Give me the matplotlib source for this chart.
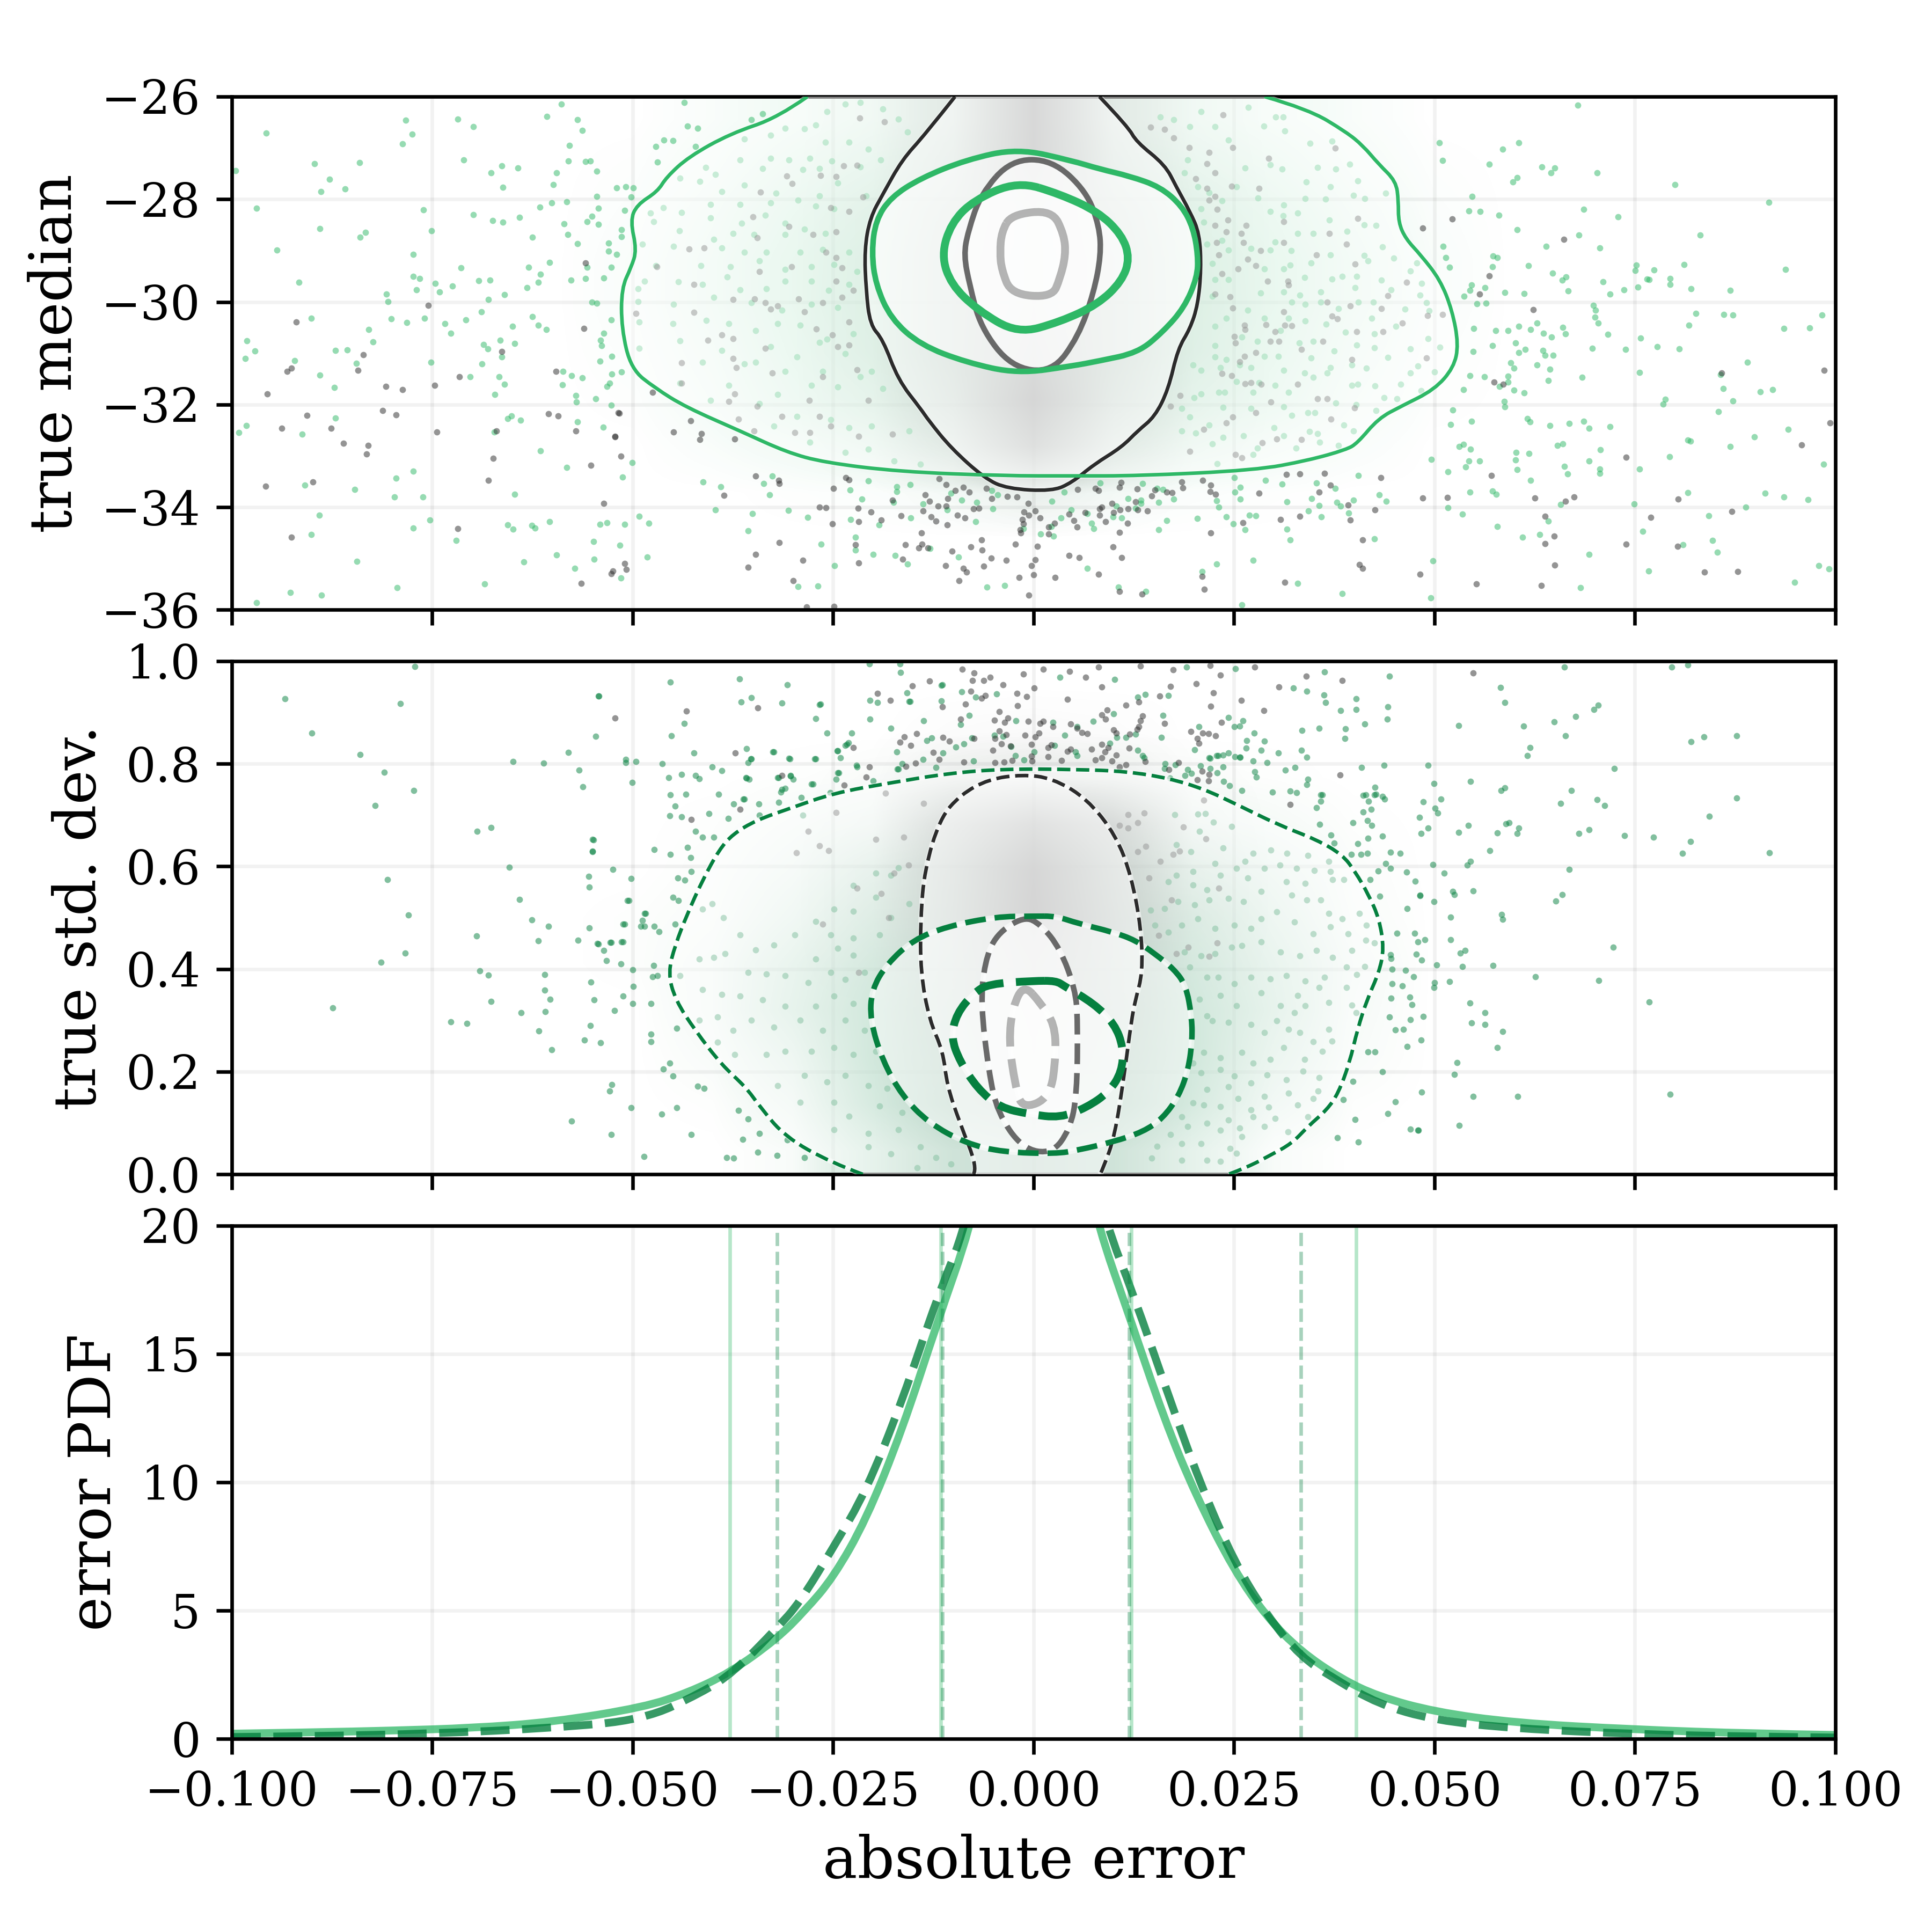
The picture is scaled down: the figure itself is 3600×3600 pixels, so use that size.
import matplotlib
matplotlib.use('Agg')
import matplotlib.pyplot as plt
from matplotlib.colors import LinearSegmentedColormap, to_rgba
from matplotlib.patches import PathPatch
from matplotlib.path import Path
import numpy as np

plt.rcParams['font.family'] = 'DejaVu Serif'

# --- top panel: scatter values (error, true median)
green_top = [
(-.0957,-26.71),(-.0995,-27.44),(-.0897,-27.31),(-.0878,-27.61),(-.0889,-27.85),(-.0859,-27.80),(-.0841,-27.29),(-.0783,-26.46),
(-.0775,-26.73),(-.0787,-26.92),(-.0718,-26.44),(-.0699,-26.59),(-.0711,-27.23),(-.0677,-27.49),(-.0663,-27.35),(-.0643,-27.39),
(-.0662,-27.77),(-.0969,-28.18),(-.0890,-28.57),(-.0840,-28.74),(-.0833,-28.65),(-.0944,-28.99),(-.0761,-28.21),(-.0751,-28.61),
(-.0699,-28.30),(-.0675,-28.42),(-.0662,-28.45),(-.0641,-28.35),(-.0774,-29.07),(-.0774,-29.50),(-.0766,-29.54),(-.0770,-29.76),
(-.0746,-29.64),(-.0741,-29.81),(-.0725,-29.69),(-.0714,-29.34),(-.0692,-29.59),(-.0678,-29.58),(-.0660,-29.86),(-.0680,-29.95),
(-.0916,-29.62),(-.0807,-29.85),(-.0805,-29.99),(-.0901,-30.32),(-.0801,-30.33),(-.0782,-30.40),(-.0760,-30.32),(-.0734,-30.42),
(-.0708,-30.35),(-.0689,-30.19),(-.0829,-30.54),(-.0824,-30.78),(-.0727,-30.61),(-.0981,-30.76),(-.0971,-30.96),(-.0983,-31.10),
(-.0871,-30.95),(-.0856,-30.94),(-.0922,-31.14),(-.0845,-31.20),(-.0752,-31.18),(-.0890,-31.43),(-.0872,-31.67),(-.0686,-30.83),
(-.0681,-30.92),(-.0665,-30.75),(-.0647,-30.81),(-.0663,-31.07),(-.0688,-31.21),(-.0703,-31.46),(-.0667,-31.46),(-.0660,-31.60),
(-.0672,-31.80),(-.0630,-29.33),(-.0615,-29.46),(-.0604,-29.23),(-.0632,-29.72),(-.0618,-29.62),(-.0625,-30.29),(-.0618,-30.46),
(-.0608,-30.54),(-.0650,-30.48),(-.0625,-28.74),(-.0616,-28.15),(-.0601,-28.07),(-.0582,-28.05),(-.0586,-28.48),(-.0581,-28.69),
(-.0569,-28.87),(-.0599,-27.72),(-.0595,-27.48),(-.0580,-27.26),(-.0559,-27.27),(-.0553,-27.25),(-.0545,-27.45),(-.0607,-26.39),
(-.0589,-26.15),(-.0569,-26.45),(-.0563,-26.66),(-.0579,-26.95),(-.0545,-27.95),(-.0543,-28.18),(-.0551,-28.33),(-.0557,-28.44),
(-.0543,-28.49),(-.0520,-27.78),(-.0509,-27.76),(-.0499,-27.78),(-.0502,-27.96),(-.0510,-28.22),(-.0514,-28.59),(-.0514,-28.73),
(-.0530,-28.85),(-.0530,-29.01),(-.0520,-29.07),(-.0557,-29.33),(-.0577,-29.58),(-.0559,-29.55),(-.0536,-29.53),(-.0527,-29.33),
(-.0551,-30.01),(-.0545,-30.03),(-.0527,-30.35),(-.0536,-30.61),(-.0540,-30.75),(-.0539,-30.85),(-.0541,-31.16),(-.0526,-31.06),
(-.0526,-31.41),(-.0514,-31.36),(-.0529,-31.58),(-.0532,-31.65),(-.0587,-31.35),(-.0576,-31.44),(-.0563,-31.48),(-.0588,-31.62),
(-.0571,-31.83),(-.0570,-31.95),(-.0546,-31.89),(-.0527,-32.01),(-.0982,-32.41),(-.0991,-32.55),(-.0871,-32.26),(-.0912,-32.58),
(-.0656,-32.27),(-.0651,-32.22),(-.0640,-32.31),(-.0673,-32.54),(-.0569,-32.34),(-.0537,-32.44),(-.0615,-32.90),(-.0582,-33.23),
(-.0513,-33.41),(-.0501,-33.13),(-.0774,-33.30),(-.0795,-33.44),(-.0847,-33.66),(-.0909,-33.57),(-.0797,-33.80),(-.0762,-33.80),
(-.0647,-33.75),(-.0891,-34.16),(-.0753,-34.25),(-.0774,-34.41),(-.0901,-34.53),(-.0720,-34.65),(-.0656,-34.35),(-.0649,-34.43),
(-.0626,-34.36),(-.0622,-34.41),(-.0604,-34.28),(-.0541,-34.33),(-.0532,-34.30),(-.0510,-34.33),(-.0492,-34.18),(-.0480,-34.31),
(-.0549,-34.67),(-.0516,-34.74),(-.0482,-34.97),(-.0548,-35.01),(-.0595,-34.93),(-.0636,-35.07),(-.0844,-35.06),(-.0572,-35.19),
(-.0515,-35.38),(-.0685,-35.50),(-.0794,-35.57),(-.0888,-35.71),(-.0927,-35.66),(-.0969,-35.86),
(.0679,-26.17),(.0506,-26.90),(.0585,-27.02),(.0605,-26.90),(.0510,-27.24),(.0568,-27.32),(.0634,-27.37),(.0645,-27.48),
(.0650,-27.39),(.0703,-27.49),(.0800,-27.72),(.0598,-27.66),(.0603,-27.58),(.0547,-27.94),(.0543,-28.23),(.0557,-28.24),
(.0580,-28.31),(.0686,-28.20),(.0729,-28.34),(.0603,-28.59),(.0917,-28.06),(.0680,-28.70),(.0831,-28.70),(.0639,-28.92),
(.0706,-28.95),(.0511,-28.92),(.0514,-29.14),(.0573,-29.11),(.0578,-29.14),(.0572,-29.31),(.0519,-29.33),(.0617,-29.29),
(.0647,-29.44),(.0664,-29.51),(.0659,-29.58),(.0710,-29.61),(.0667,-29.79),(.0612,-29.84),(.0588,-29.82),(.0546,-29.67),
(.0544,-29.78),(.0563,-29.72),(.0537,-29.89),(.0719,-29.85),(.0736,-29.76),(.0754,-29.71),(.0752,-29.28),(.0750,-29.39),
(.0774,-29.38),(.0765,-29.56),(.0768,-29.57),(.0794,-29.54),(.0794,-29.66),(.0811,-29.27),(.0820,-29.74),(.0869,-29.77),
(.0938,-29.37),(.0553,-30.04),(.0564,-30.03),(.0698,-30.07),(.0701,-30.16),(.0700,-30.30),(.0704,-30.41),(.0826,-30.23),
(.0861,-30.25),(.0872,-30.26),(.0983,-30.26),(.0817,-30.46),(.0936,-30.52),(.0968,-30.51),(.0549,-30.52),(.0576,-30.56),
(.0592,-30.56),(.0605,-30.48),(.0620,-30.54),(.0628,-30.41),(.0636,-30.61),(.0646,-30.69),(.0660,-30.50),(.0663,-30.62),
(.0716,-30.63),(.0757,-30.71),(.0601,-30.80),(.0572,-30.85),(.0613,-30.93),(.0605,-30.99),(.0635,-30.95),(.0638,-31.04),
(.0648,-31.04),(.0697,-30.90),(.0738,-30.93),(.0778,-30.87),(.0805,-30.92),(.0548,-30.97),(.0595,-31.19),(.0628,-31.23),
(.0599,-31.29),(.0644,-31.31),(.0890,-31.18),(.0756,-31.37),(.0684,-31.47),(.0544,-31.44),(.0562,-31.46),(.0592,-31.45),
(.0642,-31.53),(.0592,-31.56),(.0581,-31.65),(.0536,-31.71),(.0599,-31.72),(.0612,-31.77),(.0857,-31.42),(.0860,-31.69),
(.0906,-31.75),(.0922,-31.71),(.0872,-31.93),(.0788,-31.90),(.0785,-31.99),(.0587,-31.94),(.0588,-32.04),(.0523,-32.11),
(.0854,-32.14),(.0520,-32.39),(.0546,-32.33),(.0616,-32.27),(.0619,-32.34),(.0644,-32.41),(.0668,-32.37),(.0686,-32.33),
(.0693,-32.46),(.0719,-32.43),(.0899,-32.63),(.0941,-32.48),(.0816,-32.69),(.0819,-32.71),(.0869,-32.82),(.0536,-32.78),
(.0531,-32.82),(.0545,-32.87),(.0660,-32.77),(.0653,-32.80),(.0707,-32.88),(.0602,-32.93),(.0618,-32.95),(.0496,-33.07),
(.0543,-33.10),(.0539,-33.22),(.0556,-33.10),(.0601,-33.08),(.0603,-33.27),(.0517,-33.31),(.0620,-33.48),(.0662,-33.20),
(.0666,-33.35),(.0693,-33.10),(.0706,-33.26),(.0706,-33.34),(.0756,-33.26),(.0793,-33.02),(.0985,-33.16),(.0544,-33.71),
(.0572,-33.69),(.0577,-33.75),(.0816,-33.72),(.0912,-33.73),(.0936,-33.80),(.0966,-33.85),(.0517,-34.01),(.0535,-34.14),
(.0657,-33.95),(.0749,-33.94),(.0888,-34.00),(.0842,-34.17),(.0578,-34.38),(.0642,-34.27),(.0631,-34.53),(.0610,-34.59),
(.0760,-34.47),(.0810,-34.73),(.0847,-34.65),(.0853,-34.88),(.0693,-34.92),(.0498,-35.05),(.0767,-35.24),(.0682,-35.57),
(.0949,-35.46),(.0979,-35.14),(.0992,-35.20),(.0495,-35.77),
(-.0412,-33.51),(-.0390,-33.60),(-.0337,-33.54),(-.0326,-33.39),(-.0329,-33.76),(-.0397,-34.05),(-.0351,-34.13),(-.0306,-34.06),
(-.0282,-34.20),(-.0228,-34.24),(-.0193,-34.34),(-.0356,-34.46),(-.0206,-33.49),(-.0229,-33.67),(-.0214,-33.84),(-.0171,-33.60),
(-.0171,-33.70),(-.0154,-33.56),(-.0175,-33.91),(-.0138,-33.94),(-.0108,-34.05),(-.0153,-34.21),(-.0090,-33.86),(-.0071,-33.91),
(-.0051,-34.03),(-.0072,-34.28),(-.0103,-33.73),(-.0052,-33.68),(-.0045,-33.76),(.0023,-33.89),(.0038,-33.71),(.0047,-34.05),
(.0067,-34.13),(.0034,-34.21),(.0072,-34.31),(.0075,-34.42),(.0022,-34.38),(-.0013,-34.42),(.0009,-34.52),(.0025,-34.56),
(.0099,-34.19),(.0110,-34.21),(.0103,-33.98),(.0118,-33.83),(.0134,-33.86),(.0134,-33.93),(.0156,-33.91),(.0175,-33.84),
(.0161,-33.65),(.0154,-33.63),(.0083,-33.53),(.0136,-33.54),(.0127,-34.02),(.0166,-34.26),(.0204,-34.22),(.0156,-34.44),
(.0231,-34.00),(.0228,-33.87),(.0258,-33.84),(.0258,-33.61),(.0251,-33.71),(.0250,-33.43),(.0289,-33.48),(.0310,-33.55),
(.0353,-33.53),(.0376,-33.63),(.0405,-33.38),(.0431,-33.76),(.0347,-33.83),(.0316,-33.90),(.0356,-33.97),(.0378,-33.91),
(.0383,-33.98),(.0399,-33.86),(.0440,-33.89),(.0343,-34.07),(.0393,-34.11),(.0359,-34.19),(.0240,-34.19),(.0269,-34.16),
(.0277,-34.17),(.0249,-34.32),(.0264,-34.44),(.0316,-34.43),(.0320,-34.64),(.0425,-34.62),(-.0222,-34.59),(-.0265,-34.72),
(-.0222,-34.84),(-.0200,-34.92),(-.0173,-34.94),(-.0157,-35.11),(-.0129,-34.81),(-.0094,-34.97),(-.0248,-35.14),(-.0294,-35.55),
(-.0269,-35.54),(-.0058,-35.56),(-.0036,-35.53),(.0067,-35.19),(.0210,-35.25),(.0228,-35.11),(.0274,-35.04),(.0329,-35.49),
(.0106,-35.56),(.0140,-35.64),(.0385,-35.68),(.0260,-35.90),
(.0268,-26.21),(.0302,-26.40),(.0311,-26.40),(.0287,-26.57),(.0313,-26.67),(.0345,-26.91),(.0372,-26.87),(.0394,-27.32),
(.0354,-27.38),(.0377,-27.41),(.0404,-27.64),(.0340,-27.66),(.0370,-27.76),(.0399,-27.92),(.0413,-27.99),(.0439,-27.88),
(.0364,-28.00),(.0339,-27.99),(.0310,-27.41),(.0295,-27.33),(.0264,-27.39),(.0253,-27.76),(.0280,-27.98),(.0295,-28.24),
(.0312,-28.11),(.0329,-28.27),(.0311,-28.32),(.0369,-28.40),(.0412,-28.50),(.0427,-28.51),(.0391,-28.62),(.0349,-28.67),
(.0329,-28.67),(.0301,-28.83),(.0271,-28.96),(.0295,-28.99),(.0321,-29.00),(.0346,-29.24),(.0370,-29.08),(.0412,-29.10),
(.0435,-28.93),(.0449,-29.15),(.0417,-29.20),(.0478,-29.24),(.0470,-29.40),(.0288,-29.36),(.0312,-29.36),(.0320,-29.28),
(.0338,-29.52),(.0372,-29.56),(.0385,-29.50),(.0403,-29.50),(.0434,-29.58),(.0484,-29.64),(.0482,-29.87),(.0490,-30.02),
(.0446,-29.76),(.0401,-29.72),(.0358,-29.81),(.0332,-29.87),(.0312,-29.81),(.0283,-29.83),(.0322,-30.01),(.0339,-30.05),
(.0358,-30.00),(.0380,-30.13),(.0405,-30.00),(.0424,-30.00),(.0463,-30.14),(.0493,-30.17),(.0422,-30.32),(.0452,-30.48),
(.0425,-30.62),(.0389,-30.59),(.0365,-30.43),(.0339,-30.37),(.0318,-30.32),(.0288,-30.32),(.0267,-30.16),(.0260,-30.69),
(.0279,-30.77),(.0308,-30.56),(.0331,-30.80),(.0349,-30.77),(.0375,-30.96),(.0403,-30.84),(.0425,-30.89),(.0470,-30.92),
(.0492,-30.72),(.0507,-30.88),(.0442,-31.08),(.0397,-31.23),(.0370,-31.28),(.0346,-31.09),(.0305,-31.06),(.0288,-31.06),
(.0257,-31.23),(.0271,-31.28),(.0312,-31.33),(.0338,-31.39),(.0366,-31.39),(.0415,-31.29),(.0479,-31.25),(.0470,-31.39),
(.0500,-31.36),(.0404,-31.60),(.0397,-31.63),(.0426,-31.64),(.0458,-31.61),(.0483,-31.73),(.0349,-31.47),(.0301,-31.63),
(.0281,-31.57),(.0318,-31.76),(.0274,-31.76),(.0437,-31.87),(.0453,-31.89),(.0377,-31.97),(.0402,-32.00),(.0427,-32.12),
(.0312,-32.04),(.0342,-32.16),(.0351,-32.16),(.0271,-32.08),(.0236,-32.05),(.0322,-32.21),(.0387,-32.40),(.0399,-32.51),
(.0300,-32.45),(.0344,-32.53),(.0354,-32.57),(.0312,-32.61),(.0262,-32.61),(.0279,-32.85),(.0327,-32.85),(.0357,-32.73),
(.0380,-32.80),(.0274,-32.97),(.0229,-33.15),(.0223,-32.77),(.0236,-32.64),(.0202,-32.56),(.0185,-32.51),(.0219,-32.40),
(.0195,-32.24),(.0185,-32.08),(.0200,-31.87),(.0209,-31.79),(.0231,-31.76),(.0238,-31.76),(.0253,-31.55),(.0233,-31.28),
(.0209,-31.33),(.0199,-31.23),(.0226,-31.07),(.0226,-30.85),(.0240,-31.12),(.0226,-30.48),(.0240,-30.32),(.0223,-29.89),
(.0226,-29.57),(.0243,-29.57),(.0223,-29.25),(.0216,-28.88),(.0235,-28.80),(.0243,-28.99),(.0212,-28.45),(.0235,-28.03),
(.0209,-28.19),(.0219,-27.87),(.0188,-27.49),(.0205,-27.76),(.0192,-27.23),(.0195,-26.59),(.0209,-26.29),(.0226,-26.59),
(.0243,-26.85),(.0158,-26.40),(.0175,-26.45),
(-.0436,-26.11),(-.0338,-26.33),(-.0352,-26.45),(-.0432,-26.58),(-.0419,-26.62),(-.0461,-26.85),(-.0450,-26.86),(-.0471,-26.97),
(-.0469,-27.28),(-.0310,-26.62),(-.0286,-26.63),(-.0272,-26.55),(-.0258,-26.29),(-.0235,-26.15),(-.0216,-26.12),(-.0188,-26.24),
(-.0169,-26.44),(-.0157,-26.69),(-.0328,-26.75),(-.0361,-26.83),(-.0260,-26.89),(-.0230,-26.89),(-.0206,-27.03),(-.0191,-27.23),
(-.0328,-27.20),(-.0305,-27.23),(-.0279,-27.20),(-.0252,-27.25),(-.0366,-27.23),(-.0422,-26.97),(-.0409,-27.38),(-.0441,-27.59),
(-.0416,-27.65),(-.0397,-27.52),(-.0338,-27.40),(-.0288,-27.42),(-.0267,-27.40),(-.0216,-27.37),(-.0389,-27.85),(-.0361,-27.73),
(-.0321,-27.88),(-.0294,-28.02),(-.0267,-27.93),(-.0244,-27.68),(-.0209,-27.93),(-.0403,-28.10),(-.0366,-28.10),(-.0328,-28.07),
(-.0478,-28.27),(-.0462,-28.16),(-.0439,-28.26),(-.0403,-28.36),(-.0364,-28.47),(-.0335,-28.31),(-.0310,-28.47),(-.0272,-28.13),
(-.0249,-28.19),(-.0474,-28.44),(-.0375,-28.67),(-.0349,-28.69),(-.0310,-28.69),(-.0286,-28.58),(-.0260,-28.67),(-.0442,-28.61),
(-.0399,-28.78),(-.0361,-29.03),(-.0333,-29.03),(-.0291,-29.03),(-.0263,-28.98),(-.0230,-29.03),(-.0449,-28.92),(-.0488,-28.88),
(-.0389,-28.95),(-.0415,-29.29),(-.0471,-29.29),(-.0378,-29.32),(-.0342,-29.20),(-.0310,-29.37),(-.0277,-29.32),(-.0249,-29.27),
(-.0220,-29.41),(-.0485,-29.60),(-.0443,-29.61),(-.0413,-29.66),(-.0382,-29.51),(-.0366,-29.76),(-.0333,-29.74),(-.0310,-29.60),
(-.0277,-29.60),(-.0256,-29.77),(-.0230,-29.66),(-.0493,-29.74),(-.0493,-29.99),(-.0449,-30.05),(-.0399,-29.91),(-.0352,-30.02),
(-.0314,-30.16),(-.0277,-30.05),(-.0244,-30.11),(-.0492,-30.39),(-.0450,-30.42),(-.0408,-30.36),(-.0380,-30.42),(-.0347,-30.56),
(-.0319,-30.42),(-.0291,-30.45),(-.0258,-30.73),(-.0225,-30.62),(-.0492,-30.90),(-.0441,-30.76),(-.0389,-30.95),(-.0347,-31.18),
(-.0328,-30.87),(-.0295,-31.07),(-.0267,-30.79),(-.0235,-31.01),(-.0202,-31.35),(-.0413,-31.18),(-.0361,-31.21),(-.0310,-31.35),
(-.0263,-31.35),(-.0169,-31.46),(-.0441,-31.58),(-.0380,-31.63),(-.0319,-31.80),(-.0277,-31.63),(-.0244,-31.66),(-.0216,-31.46),
(-.0188,-31.69),(-.0403,-31.92),(-.0342,-31.98),(-.0295,-32.23),(-.0253,-32.30),(-.0230,-32.45),(-.0202,-32.42),(-.0155,-32.51),
(-.0324,-32.42),(-.0279,-32.73),(-.0235,-32.93),(-.0206,-32.87),(-.0174,-33.10),(-.0141,-33.16),
]
grey_top = [
(-.0920,-30.39),(-.0755,-30.07),(-.0836,-31.03),(-.0843,-31.33),(-.0926,-31.29),(-.0931,-31.35),(-.0956,-31.79),(-.0808,-31.65),
(-.0787,-31.71),(-.0747,-31.63),(-.0716,-31.46),(-.0663,-30.97),(-.0559,-29.24),(-.0561,-30.52),(-.0596,-31.35),(-.0906,-32.21),
(-.0938,-32.46),(-.0876,-32.46),(-.0812,-32.12),(-.0795,-32.20),(-.0861,-32.76),(-.0830,-32.80),(-.0832,-32.96),(-.0744,-32.54),
(-.0670,-32.52),(-.0674,-33.05),(-.0605,-32.18),(-.0593,-32.22),(-.0571,-32.52),(-.0517,-32.17),(-.0522,-32.63),(-.0515,-33.01),
(-.0552,-33.18),(-.0680,-33.48),(-.0958,-33.59),(-.0899,-33.51),(-.0536,-33.93),(-.0718,-34.42),(-.0926,-34.59),(-.0564,-35.48),
(-.0527,-35.30),(-.0525,-35.24),(-.0510,-35.10),(-.0508,-35.21),
(.0522,-28.38),(.0485,-28.56),(.0661,-28.78),(.0568,-29.49),(.0556,-29.85),(.0623,-30.15),(.0858,-31.39),(.0986,-31.33),
(.0574,-31.56),(.0586,-31.61),(.0993,-32.36),(.0958,-32.79),(.0739,-33.03),(.0571,-33.38),(.0485,-33.82),(.0516,-33.81),
(.0625,-33.82),(.0674,-33.80),(.0663,-33.88),(.0804,-33.84),(.0871,-34.08),(.0770,-34.20),(.0638,-34.18),(.0649,-34.56),
(.0638,-34.71),(.0739,-34.72),(.0803,-34.76),(.0650,-35.13),(.0837,-35.27),(.0878,-35.25),(.0552,-35.50),(.0633,-35.53),(.0482,-35.31),
(-.0386,-33.77),(-.0347,-33.39),(-.0318,-33.48),(-.0317,-33.54),(-.0250,-33.63),(-.0234,-33.42),(-.0230,-33.47),(-.0267,-34.00),
(-.0259,-34.01),(-.0219,-34.02),(-.0203,-34.09),(-.0251,-34.32),(-.0218,-34.28),(-.0190,-34.25),(-.0176,-33.86),(-.0135,-33.76),
(-.0130,-33.88),(-.0138,-34.07),(-.0119,-33.98),(-.0109,-33.98),(-.0165,-34.17),(-.0128,-34.19),(-.0122,-34.27),(-.0108,-34.35),
(-.0095,-34.16),(-.0086,-34.21),(-.0075,-34.03),(-.0068,-34.02),(-.0107,-33.83),(-.0080,-33.71),(-.0088,-33.61),(-.0098,-33.68),
(-.0109,-33.56),(-.0118,-33.45),(-.0059,-33.63),(-.0052,-33.83),(-.0033,-33.79),(-.0021,-33.80),(-.0007,-33.93),(-.0012,-34.09),
(.0002,-34.07),(-.0006,-34.16),(-.0014,-34.24),(.0008,-34.21),(-.0013,-34.32),(-.0017,-34.44),(-.0016,-34.50),(.0019,-34.39),
(.0026,-34.31),(.0019,-34.52),(.0050,-34.26),(.0054,-34.39),(.0044,-34.14),(.0064,-34.10),(.0082,-34.16),(.0090,-34.28),
(.0117,-34.31),(.0107,-34.49),(.0100,-34.10),(.0082,-34.03),(.0085,-34.00),(.0098,-33.93),(.0108,-34.05),(.0118,-34.03),
(.0130,-34.05),(.0142,-34.07),(.0127,-33.90),(.0147,-33.78),(.0151,-33.67),(.0166,-33.71),(.0173,-33.72),(.0129,-33.64),
(.0107,-33.61),(.0077,-33.63),(.0081,-33.68),(.0055,-33.65),(.0109,-33.52),(.0185,-33.51),(.0186,-33.62),(.0211,-33.48),
(.0221,-33.57),(.0220,-33.70),(.0227,-33.75),(.0281,-33.73),(.0315,-33.36),(.0332,-33.35),(.0363,-33.34),(.0370,-33.57),
(.0356,-33.71),(.0433,-33.42),(.0392,-33.96),(.0426,-34.05),(.0308,-34.24),(.0332,-34.18),(.0395,-34.25),(.0261,-34.30),
(.0221,-34.50),(.0410,-34.64),(-.0317,-34.69),(-.0347,-34.92),(-.0288,-35.04),(-.0356,-35.17),(-.0300,-35.43),(-.0222,-34.73),
(-.0218,-35.09),(-.0160,-34.73),(-.0139,-34.72),(-.0143,-34.79),(-.0132,-34.80),(-.0140,-34.50),(-.0163,-35.01),(-.0102,-34.86),
(-.0078,-34.77),(-.0065,-34.64),(-.0064,-34.84),(-.0053,-34.99),(-.0110,-35.14),(-.0088,-35.19),(-.0084,-35.27),(-.0062,-35.15),
(-.0034,-35.04),(-.0023,-34.72),(.0005,-34.76),(.0002,-35.03),(-.0003,-35.14),(.0000,-35.32),(-.0018,-35.37),(.0027,-35.37),
(-.0093,-35.43),(.0044,-34.94),(.0057,-34.98),(.0099,-34.77),(.0110,-34.98),(.0081,-35.31),(.0210,-35.35),(.0213,-35.60),
(.0107,-35.64),(.0135,-35.69),(-.0006,-35.71),(.0313,-35.46),(.0406,-35.12),(.0410,-35.19),(-.0283,-35.95),(-.0249,-35.93),
(.0236,-26.36),(.0163,-26.64),(.0146,-26.60),(.0175,-26.80),(.0194,-26.99),(.0219,-27.09),(.0248,-26.99),(.0293,-27.20),
(.0216,-27.31),(.0226,-27.48),(.0202,-27.60),(.0281,-27.79),(.0247,-27.75),(.0216,-27.79),(.0226,-27.95),(.0219,-28.02),
(.0229,-28.20),(.0312,-28.44),(.0242,-28.41),(.0226,-28.51),(.0265,-28.51),(.0259,-28.67),(.0240,-28.64),(.0262,-28.84),
(.0228,-28.84),(.0312,-28.84),(.0369,-28.67),(.0404,-28.37),(.0376,-27.00),(.0390,-28.88),(.0353,-29.09),(.0283,-29.00),
(.0231,-29.09),(.0267,-29.17),(.0277,-29.29),(.0255,-29.36),(.0235,-29.45),(.0292,-29.60),(.0317,-29.60),(.0318,-29.67),
(.0401,-29.26),(.0465,-29.62),(.0442,-29.88),(.0366,-30.00),(.0312,-30.19),(.0395,-30.08),(.0434,-30.13),(.0491,-30.27),
(.0510,-30.25),(.0460,-30.41),(.0372,-30.28),(.0379,-30.33),(.0313,-30.45),(.0322,-30.47),(.0290,-30.44),(.0263,-30.45),
(.0264,-30.54),(.0301,-30.58),(.0403,-30.58),(.0436,-30.58),(.0248,-30.12),(.0245,-29.90),(.0226,-29.85),(.0250,-30.67),
(.0252,-30.80),(.0295,-30.77),(.0306,-30.77),(.0361,-30.77),(.0334,-30.93),(.0397,-31.12),(.0490,-31.09),(.0257,-31.17),
(.0277,-30.99),(.0263,-31.06),(.0247,-31.44),(.0235,-31.40),(.0264,-31.59),(.0271,-31.57),(.0284,-31.61),(.0329,-31.61),
(.0354,-31.89),(.0366,-31.89),(.0296,-31.95),(.0277,-32.16),(.0400,-32.07),(.0371,-32.28),(.0248,-32.24),(.0240,-32.36),
(.0212,-32.48),(.0303,-32.67),(.0285,-32.75),(.0334,-32.68),(.0195,-32.91),(.0252,-32.98),(.0260,-33.04),(.0183,-31.83),(.0171,-32.03),
(-.0217,-26.42),(-.0186,-26.49),(-.0237,-27.35),(-.0220,-27.34),(-.0266,-27.54),(-.0246,-27.56),(-.0308,-27.55),(-.0301,-27.69),
(-.0341,-27.86),(-.0213,-27.96),(-.0253,-28.16),(-.0230,-28.24),(-.0350,-28.34),(-.0305,-28.53),(-.0275,-28.69),(-.0246,-28.64),
(-.0345,-28.75),(-.0411,-28.95),(-.0430,-28.97),(-.0259,-29.03),(-.0246,-29.14),(-.0302,-29.32),(-.0342,-29.41),(-.0239,-29.34),
(-.0470,-29.32),(-.0246,-29.60),(-.0424,-29.66),(-.0225,-29.77),(-.0348,-29.94),(-.0335,-30.02),(-.0293,-29.94),(-.0263,-30.02),
(-.0239,-29.91),(-.0375,-29.95),(-.0496,-30.22),(-.0319,-30.08),(-.0328,-30.14),(-.0286,-30.19),(-.0424,-30.20),(-.0271,-30.53),
(-.0251,-30.64),(-.0230,-30.39),(-.0389,-30.64),(-.0375,-30.72),(-.0406,-30.75),(-.0335,-30.90),(-.0244,-30.87),(-.0230,-30.84),
(-.0375,-31.10),(-.0439,-31.19),(-.0371,-31.28),(-.0326,-31.39),(-.0263,-31.46),(-.0220,-31.32),(-.0439,-31.58),(-.0373,-31.79),
(-.0380,-31.94),(-.0280,-31.92),(-.0206,-31.92),(-.0345,-32.03),(-.0368,-32.28),(-.0314,-32.23),(-.0267,-32.23),(-.0253,-32.42),
(-.0298,-32.55),(-.0349,-32.51),(-.0279,-32.55),(-.0176,-32.58),(-.0218,-32.62),(-.0518,-32.16),(-.0522,-32.62),(-.0475,-31.76),
(-.0428,-32.32),(-.0449,-32.54),(-.0414,-32.57),(-.0416,-32.68),(-.0373,-32.67),
]

# --- middle panel scatter values (error, true std. dev.)
green_mid = [
(-.0772,.989),(-.0934,.927),(-.0790,.917),(-.0900,.860),(-.0840,.818),(-.0810,.783),(-.0773,.748),(-.0821,.719),(-.0694,.668),
(-.0677,.676),(-.0649,.804),(-.0611,.801),(-.0580,.822),(-.0567,.788),(-.0562,.755),(-.0542,.932),(-.0546,.853),(-.0509,.808),
(-.0509,.802),(-.0496,.804),(-.0501,.764),(-.0549,.652),(-.0550,.629),(-.0654,.598),(-.0525,.594),(-.0555,.581),(-.0554,.560),
(-.0502,.576),(-.0806,.574),(-.0641,.536),(-.0507,.533),(-.0484,.508),(-.0488,.495),(-.0780,.505),(-.0626,.496),(-.0605,.483),
(-.0512,.487),(-.0490,.483),(-.0695,.464),(-.0554,.480),(-.0618,.455),(-.0568,.456),(-.0543,.449),(-.0527,.452),(-.0512,.453),
(-.0536,.436),(-.0784,.431),(-.0814,.413),(-.0533,.416),(-.0515,.410),(-.0500,.399),(-.0691,.396),(-.0680,.388),(-.0610,.389),
(-.0552,.375),(-.0610,.359),(-.0603,.341),(-.0677,.337),(-.0548,.340),(-.0499,.366),(-.0512,.347),(-.0500,.333),(-.0874,.324),
(-.0609,.317),(-.0639,.315),(-.0523,.319),(-.0727,.297),(-.0707,.294),(-.0553,.290),(-.0617,.279),(-.0560,.262),(-.0540,.256),
(-.0601,.243),(-.0526,.175),(-.0529,.162),(-.0502,.130),(-.0576,.104),(-.0527,.078),(-.0486,.035),
(.0662,.988),(.0796,.988),(.0816,.993),(.0582,.949),(.0588,.919),(.0704,.914),(.0699,.906),(.0676,.892),(.0649,.882),
(.0611,.873),(.0530,.874),(.0663,.855),(.0877,.854),(.0836,.852),(.0820,.843),(.0619,.832),(.0616,.816),(.0492,.797),
(.0724,.791),(.0499,.761),(.0545,.766),(.0588,.753),(.0583,.748),(.0671,.748),(.0508,.731),(.0486,.726),(.0657,.723),
(.0703,.730),(.0712,.719),(.0877,.733),(.0501,.713),(.0504,.704),(.0843,.698),(.0481,.696),(.0492,.675),(.0542,.680),
(.0589,.683),(.0593,.685),(.0605,.675),(.0693,.671),(.0680,.664),(.0737,.660),(.0773,.657),(.0819,.648),(.0809,.625),
(.0918,.627),(.0483,.664),(.0530,.666),(.0578,.665),(.0603,.664),(.0569,.631),(.0545,.610),(.0541,.603),(.0498,.604),
(.0668,.594),(.0512,.587),(.0523,.551),(.0525,.545),(.0548,.552),(.0659,.545),(.0651,.532),(.0482,.543),(.0499,.531),
(.0520,.501),(.0584,.506),(.0585,.497),(.0488,.457),(.0520,.457),(.0538,.436),(.0532,.431),(.0723,.442),(.0484,.417),
(.0503,.408),(.0535,.405),(.0573,.407),(.0626,.385),(.0705,.378),(.0519,.376),(.0500,.373),(.0499,.364),(.0544,.334),
(.0563,.315),(.0486,.308),(.0768,.336),(.0546,.295),(.0563,.292),(.0585,.278),(.0483,.262),(.0578,.247),(.0528,.218),
(.0525,.195),(.0484,.160),(.0548,.152),(.0604,.152),(.0794,.156),(.0531,.095),(.0480,.086),
(-.0367,.965),(-.0307,.954),(-.0352,.929),(-.0365,.920),(-.0314,.918),(-.0266,.916),(-.0272,.888),(-.0258,.860),(-.0227,.860),
(-.0204,.887),(-.0178,.869),(-.0205,.995),(-.0166,.978),(-.0114,.954),(-.0158,.938),(-.0090,.940),(-.0072,.930),(-.0046,.936),
(-.0204,.924),(-.0195,.919),(-.0154,.921),(-.0115,.923),(-.0137,.884),(-.0091,.876),(-.0080,.894),(-.0022,.884),(.0024,.881),
(.0033,.968),(.0101,.964),(.0191,.988),(.0252,.985),(.0139,.935),(.0130,.930),(.0168,.933),(.0100,.897),(.0161,.894),
(.0074,.883),(.0243,.890),(.0261,.884),(.0250,.872),(.0257,.873),(.0206,.872),(.0054,.872),(.0039,.856),(.0104,.851),
(.0115,.851),(.0127,.858),(.0159,.851),(-.0049,.856),(-.0038,.853),(-.0077,.850),(-.0127,.850),(-.0133,.845),(-.0231,.841),
(-.0235,.836),(-.0087,.839),(-.0097,.833),(.0095,.840),(-.0028,.834),(.0026,.836),(-.0358,.829),(-.0324,.823),(-.0352,.810),
(-.0356,.802),(-.0304,.810),(-.0272,.810),(-.0244,.825),(-.0241,.812),(-.0171,.823),(-.0113,.821),(-.0138,.809),(-.0075,.805),
(-.0023,.816),(.0001,.823),(-.0012,.807),(.0052,.823),(.0054,.816),(.0130,.826),(.0136,.816),(.0201,.827),(.0138,.812),
(.0220,.811),(.0230,.816),(.0236,.817),(.0243,.821),(.0251,.814),(.0258,.813),(.0265,.830),(.0284,.826),(.0305,.821),
(.0334,.826),(.0341,.813),(.0275,.860),(.0266,.845),(.0288,.844),(.0335,.865),(.0356,.869),(.0389,.868),(.0413,.877),
(.0441,.887),(.0388,.849),(.0274,.805),(.0291,.802),(.0236,.794),(.0208,.796),(.0220,.791),(.0192,.789),(.0177,.798),
(.0164,.800),(.0163,.791),(.0409,.793),(.0437,.797),(.0326,.793),(.0314,.788),(.0276,.784),(.0278,.774),(.0342,.770),
(.0341,.759),(.0426,.754),(.0260,.748),(.0298,.745),(.0320,.747),(.0328,.744),(.0360,.740),(.0414,.739),(.0427,.741),
(.0438,.731),(.0244,.757),(.0237,.766),(.0229,.782),(.0189,.777),(.0197,.781),(.0170,.772),(.0363,.979),(.0341,.941),
(.0324,.948),(.0362,.934),(.0364,.919),(.0402,.927),(.0383,.904),(.0402,.906),(.0442,.911),(.0444,.971),(-.0401,.794),
(-.0389,.787),(-.0417,.771),(-.0358,.772),(-.0355,.770),(-.0318,.773),(-.0303,.776),(-.0300,.770),(-.0275,.760),(-.0246,.770),
(-.0243,.782),(-.0221,.797),(-.0220,.794),(-.0170,.790),(-.0164,.800),(-.0122,.793),(-.0310,.752),(-.0315,.745),(-.0393,.741),
(-.0361,.731),(-.0290,.734),(-.0200,.767),(-.0254,.744),
(.0219,.812),(.0228,.816),(.0257,.813),(.0358,.739),(.0358,.727),(.0353,.714),(.0357,.682),(.0371,.661),(.0375,.645),
(.0411,.738),(.0425,.740),(.0435,.736),(.0418,.727),(.0421,.711),(.0411,.706),(.0416,.689),(.0422,.680),(.0398,.685),
(.0417,.655),(.0435,.659),(.0404,.644),(.0408,.623),(.0416,.626),(.0396,.623),(.0445,.628),(.0457,.626),(.0439,.606),
(.0445,.596),(.0430,.591),(.0420,.574),(.0465,.589),(.0476,.571),(.0432,.542),(.0482,.544),(.0466,.518),(.0453,.470),
(.0475,.470),(.0479,.453),(.0445,.428),(.0446,.421),(.0477,.429),(.0447,.400),(.0464,.397),(.0447,.371),(.0474,.385),
(.0460,.367),(.0446,.343),(.0469,.345),(.0472,.331),(.0444,.307),(.0470,.301),(.0451,.281),(.0461,.283),(.0466,.249),
(.0417,.239),(.0426,.239),(.0435,.200),(.0398,.181),(.0386,.145),(.0451,.141),(.0442,.118),(.0401,.107),(.0470,.088),
(.0479,.086),(.0379,.071),(.0405,.063),
(.0205,.702),(.0214,.703),(.0176,.701),(.0224,.686),(.0178,.642),(.0196,.629),(.0207,.668),(.0236,.636),(.0247,.678),
(.0274,.626),(.0296,.632),(.0316,.626),(.0342,.621),(.0368,.610),(.0288,.596),(.0307,.602),(.0328,.596),(.0350,.592),
(.0370,.590),(.0387,.574),(.0373,.574),(.0264,.610),(.0226,.606),(.0199,.590),(.0178,.583),(.0168,.570),(.0199,.564),
(.0216,.554),(.0233,.583),(.0253,.596),(.0267,.577),(.0284,.551),(.0315,.570),(.0339,.567),(.0358,.534),(.0341,.534),
(.0322,.544),(.0303,.511),(.0262,.531),(.0243,.538),(.0219,.534),(.0201,.525),(.0180,.531),(.0163,.518),(.0146,.515),
(.0385,.498),(.0368,.508),(.0406,.508),(.0415,.485),(.0392,.469),(.0370,.482),(.0349,.469),(.0325,.492),(.0284,.498),
(.0271,.479),(.0250,.485),(.0226,.479),(.0205,.498),(.0185,.485),(.0168,.472),(.0151,.485),(.0414,.456),(.0425,.451),
(.0397,.436),(.0373,.423),(.0353,.436),(.0332,.426),(.0308,.433),(.0284,.453),(.0260,.446),(.0247,.443),(.0226,.430),
(.0209,.426),(.0188,.433),(.0390,.404),(.0413,.405),(.0403,.389),(.0363,.384),(.0339,.377),(.0315,.387),(.0295,.381),
(.0271,.384),(.0250,.371),(.0230,.384),(.0216,.384),(.0195,.404),(.0356,.364),(.0390,.364),(.0329,.348),(.0308,.328),
(.0284,.354),(.0253,.328),(.0233,.348),(.0216,.309),(.0207,.341),(.0368,.335),(.0397,.330),(.0339,.328),(.0325,.315),
(.0303,.299),(.0271,.292),(.0243,.296),(.0223,.299),(.0402,.315),(.0368,.283),(.0349,.258),(.0332,.276),(.0318,.283),
(.0288,.276),(.0260,.237),(.0233,.227),(.0212,.237),(.0372,.260),(.0360,.240),(.0338,.224),(.0312,.247),(.0295,.224),
(.0274,.217),(.0250,.191),(.0233,.204),(.0209,.198),(.0199,.217),(.0356,.188),(.0336,.201),(.0315,.184),(.0291,.194),
(.0271,.178),(.0243,.171),(.0216,.165),(.0199,.139),(.0355,.162),(.0318,.158),(.0288,.152),(.0255,.148),(.0233,.132),
(.0212,.135),(.0185,.112),(.0349,.148),(.0329,.135),(.0293,.131),(.0271,.126),(.0243,.106),(.0216,.099),(.0192,.093),
(.0171,.077),(.0342,.112),(.0301,.109),(.0274,.112),(.0257,.090),(.0233,.086),(.0209,.060),(.0185,.060),(.0154,.054),
(.0317,.083),(.0288,.093),(.0260,.073),(.0245,.050),(.0216,.027),(.0233,.025),(.0185,.027),(.0147,.031),(.0253,.041),
(-.0453,.959),(-.0543,.932),(-.0267,.915),(-.0155,.921),(-.0115,.953),(-.0167,.995),
(-.0436,.879),(-.0452,.855),(-.0424,.821),(-.0463,.800),(-.0353,.810),(-.0325,.823),(-.0305,.811),(-.0273,.810),
(-.0245,.825),(-.0233,.838),(-.0244,.782),(-.0169,.790),(-.0439,.779),(-.0422,.777),(-.0455,.773),
(-.0359,.773),(-.0319,.773),(-.0303,.777),(-.0277,.760),(-.0453,.739),(-.0434,.741),(-.0447,.717),
(-.0454,.699),(-.0405,.703),(-.0374,.722),(-.0362,.731),(-.0343,.722),(-.0314,.750),(-.0318,.725),(-.0342,.700),(-.0288,.700),
(-.0439,.697),(-.0422,.668),(-.0413,.657),(-.0399,.657),(-.0381,.693),(-.0453,.623),(-.0473,.633),(-.0432,.637),(-.0428,.617),
(-.0427,.590),(-.0550,.653),(-.0550,.630),(-.0444,.577),(-.0435,.573),(-.0505,.533),(-.0450,.540),
(-.0443,.533),(-.0485,.508),(-.0485,.483),(-.0473,.483),(-.0447,.487),(-.0467,.473),(-.0510,.487),(-.0544,.450),(-.0528,.452),
(-.0514,.453),(-.0474,.407),(-.0475,.385),(-.0469,.387),(-.0477,.333),(-.0445,.285),(-.0477,.273),(-.0477,.258),
(-.0454,.217),(-.0462,.205),(-.0450,.191),(-.0419,.172),(-.0411,.167),(-.0445,.130),
(-.0464,.117),(-.0427,.077),(-.0383,.033),(-.0374,.031),(-.0344,.043),(-.0320,.037),(-.0286,.033),
(-.0363,.068),(-.0342,.080),(-.0368,.125),(-.0356,.108),(-.0307,.067),
(-.0413,.517),(-.0401,.527),(-.0387,.500),(-.0366,.467),(-.0347,.437),(-.0324,.447),(-.0298,.467),(-.0272,.493),(-.0249,.517),
(-.0225,.563),(-.0197,.587),(-.0178,.583),(-.0169,.597),(-.0225,.513),(-.0197,.540),(-.0178,.500),(-.0155,.527),(-.0253,.467),
(-.0225,.460),(-.0192,.467),(-.0272,.420),(-.0244,.440),(-.0225,.427),(-.0417,.420),(-.0399,.423),(-.0385,.430),(-.0356,.393),
(-.0333,.390),(-.0310,.387),(-.0281,.373),(-.0253,.393),(-.0235,.380),(-.0211,.393),(-.0441,.387),(-.0413,.360),(-.0389,.350),
(-.0366,.347),(-.0338,.340),(-.0310,.327),(-.0272,.327),(-.0249,.347),(-.0225,.333),(-.0417,.300),(-.0394,.307),(-.0375,.280),
(-.0352,.300),(-.0324,.287),(-.0291,.300),(-.0263,.280),(-.0235,.300),(-.0211,.280),(-.0394,.257),(-.0373,.233),(-.0333,.233),
(-.0310,.240),(-.0277,.240),(-.0249,.247),(-.0225,.233),(-.0197,.240),(-.0319,.173),(-.0286,.193),(-.0258,.180),(-.0235,.193),
(-.0206,.173),(-.0183,.167),(-.0291,.140),(-.0249,.140),(-.0230,.113),(-.0192,.133),(-.0164,.120),(-.0249,.087),(-.0206,.080),
(-.0169,.087),(-.0141,.053),(-.0178,.040),(-.0206,.053),(-.0122,.033),(-.0103,.020),(-.0145,.013),
]
grey_mid = [
(-.0522,.889),(.0548,.977),(-.0089,.984),(-.0074,.977),(-.0054,.969),(-.0062,.962),(-.0076,.962),(-.0013,.975),(-.0038,.954),
(-.0130,.961),(-.0151,.952),(.0001,.948),(.0012,.984),(.0045,.980),(.0081,.988),(.0065,.969),(.0085,.950),(.0133,.990),
(.0174,.983),(.0220,.992),(.0233,.973),(.0203,.956),(.0171,.951),(.0224,.938),(.0157,.932),(.0276,.988),(.0340,.971),
(.0385,.962),(.0306,.950),(.0259,.924),(.0221,.912),(.0287,.904),(-.0195,.937),(-.0179,.924),(-.0344,.909),(-.0078,.941),
(-.0060,.933),(-.0065,.928),(-.0021,.937),(-.0009,.931),(-.0020,.913),(.0042,.926),(-.0085,.916),(-.0114,.911),(-.0043,.902),
(.0115,.914),(.0131,.920),(.0092,.905),(.0085,.895),(.0090,.887),(.0136,.893),(.0133,.884),(.0163,.879),(.0234,.881),
(-.0091,.887),(-.0049,.885),(-.0036,.881),(-.0032,.889),(-.0007,.883),(.0008,.879),(.0012,.883),(.0046,.877),(.0024,.872),
(.0054,.869),(.0060,.861),(.0067,.859),(.0100,.866),(.0103,.860),(.0120,.858),(.0129,.867),(.0131,.872),(.0196,.863),
(.0211,.860),(.0218,.859),(.0227,.854),(.0204,.849),(.0206,.840),(-.0043,.864),(-.0034,.857),(-.0011,.856),(.0007,.860),
(.0002,.852),(-.0048,.849),(-.0074,.849),(-.0113,.851),(-.0105,.844),(-.0146,.859),(-.0161,.852),(-.0167,.842),(-.0153,.836),
(-.0225,.832),(-.0040,.839),(-.0029,.835),(-.0003,.838),(.0022,.837),(.0018,.831),(.0046,.828),(.0042,.824),(.0072,.828),
(.0085,.838),(.0093,.831),(.0089,.823),(.0119,.830),(-.0051,.826),(-.0125,.822),(-.0118,.809),(-.0372,.821),(.0018,.814),
(-.0003,.815),(-.0002,.805),(-.0027,.806),(-.0037,.803),(-.0048,.802),(-.0087,.803),(-.0147,.801),(-.0159,.795),(-.0205,.794),
(.0035,.806),(.0077,.807),(.0085,.812),(.0098,.805),(.0103,.817),(.0139,.804),(.0115,.798),(.0107,.794),(.0181,.802),
(.0169,.789),(.0210,.785),(.0219,.779),(.0204,.769),(.0218,.767),(.0382,.778),(-.0314,.777),(-.0209,.774),(-.0236,.758),
(.0320,.721),(.0212,.729),(.0187,.677),(.0215,.654),(.0182,.630),(.0174,.623),(.0231,.557),
(.0229,.451),(.0219,.425),(.0193,.443),(.0178,.430),(.0156,.466),(.0172,.534),(.0144,.577),(.0158,.610),(.0140,.639),
(.0130,.629),(.0118,.675),(.0107,.680),(.0130,.685),(.0138,.704),(.0118,.701),
(-.0433,.903),(-.0427,.691),(-.0366,.711),(-.0246,.705),(-.0185,.743),(-.0137,.723),(-.0281,.668),(-.0267,.640),(-.0256,.631),
(-.0296,.627),(-.0220,.557),(-.0190,.547),(-.0162,.657),(-.0197,.653),(-.0174,.587),(-.0156,.603),(-.0263,.487),(-.0181,.500),(-.0218,.393),
]

# shading for the core of each cloud, where single dots can no longer be read
# rows go from the top of the panel to the bottom
core_x = [-.06, -.05, -.04, -.03, -.02, -.01, 0, .01, .02, .03, .04, .05, .06]
core_top_y = [-26, -27, -28, -29, -30, -31, -32, -33, -34, -35, -36]
core_mid_y = [1.0, .9, .8, .7, .6, .5, .4, .3, .2, .1, 0]
green_top_core = [
    [0, 0, .03, .07, .12, .15, .15, .15, .12, .07, .03, 0, 0],
    [0, .01, .05, .12, .18, .20, .20, .20, .18, .12, .05, .01, 0],
    [0, .02, .08, .17, .24, .27, .27, .27, .24, .17, .08, .02, 0],
    [0, .03, .10, .20, .28, .30, .30, .30, .28, .20, .10, .03, 0],
    [0, .03, .10, .20, .28, .30, .30, .30, .28, .20, .10, .03, 0],
    [0, .02, .08, .18, .26, .30, .30, .30, .26, .18, .08, .02, 0],
    [0, .01, .06, .15, .21, .24, .24, .24, .21, .15, .06, .01, 0],
    [0, 0, .03, .07, .12, .15, .15, .15, .12, .07, .03, 0, 0],
    [0, 0, 0, .01, .02, .04, .05, .04, .02, .01, 0, 0, 0],
    [0, 0, 0, 0, 0, 0, 0, 0, 0, 0, 0, 0, 0],
    [0, 0, 0, 0, 0, 0, 0, 0, 0, 0, 0, 0, 0],
]
grey_top_core = [
    [0, 0, 0, 0, .02, .20, .90, .20, .02, 0, 0, 0, 0],
    [0, 0, 0, 0, .03, .25, .90, .25, .03, 0, 0, 0, 0],
    [0, 0, 0, 0, .06, .35, .70, .35, .06, 0, 0, 0, 0],
    [0, 0, 0, 0, .06, .40, .70, .40, .06, 0, 0, 0, 0],
    [0, 0, 0, 0, .07, .40, .70, .40, .07, 0, 0, 0, 0],
    [0, 0, 0, 0, .07, .40, .80, .40, .07, 0, 0, 0, 0],
    [0, 0, 0, 0, .05, .35, .95, .35, .05, 0, 0, 0, 0],
    [0, 0, 0, 0, .02, .20, .70, .20, .02, 0, 0, 0, 0],
    [0, 0, 0, 0, 0, .02, .08, .02, 0, 0, 0, 0, 0],
    [0, 0, 0, 0, 0, 0, 0, 0, 0, 0, 0, 0, 0],
    [0, 0, 0, 0, 0, 0, 0, 0, 0, 0, 0, 0, 0],
]
green_mid_core = [
    [0, 0, 0, 0, 0, 0, 0, 0, 0, 0, 0, 0, 0],
    [0, 0, 0, 0, 0, 0, 0, 0, 0, 0, 0, 0, 0],
    [0, 0, 0, .01, .02, .03, .03, .03, .02, .01, 0, 0, 0],
    [0, 0, .01, .04, .07, .09, .09, .09, .07, .04, .01, 0, 0],
    [0, 0, .02, .07, .16, .20, .20, .20, .16, .09, .02, 0, 0],
    [0, .01, .03, .11, .24, .24, .20, .24, .26, .13, .03, 0, 0],
    [0, .01, .05, .17, .32, .35, .35, .35, .32, .17, .05, 0, 0],
    [0, 0, .05, .19, .36, .42, .42, .42, .36, .19, .04, 0, 0],
    [0, 0, .03, .13, .36, .45, .45, .45, .36, .15, .03, 0, 0],
    [0, 0, .01, .08, .32, .50, .50, .50, .32, .10, .01, 0, 0],
    [0, 0, 0, .03, .20, .35, .35, .35, .20, .03, 0, 0, 0],
]
grey_mid_core = [
    [0, 0, 0, 0, 0, 0, 0, 0, 0, 0, 0, 0, 0],
    [0, 0, 0, 0, 0, .02, .03, .02, 0, 0, 0, 0, 0],
    [0, 0, 0, 0, .01, .08, .12, .08, .01, 0, 0, 0, 0],
    [0, 0, 0, 0, .02, .35, .65, .38, .03, 0, 0, 0, 0],
    [0, 0, 0, 0, .04, .42, .95, .45, .05, 0, 0, 0, 0],
    [0, 0, 0, 0, .04, .42, 1.0, .48, .05, 0, 0, 0, 0],
    [0, 0, 0, 0, .02, .35, .80, .40, .02, 0, 0, 0, 0],
    [0, 0, 0, 0, 0, .30, .70, .35, 0, 0, 0, 0, 0],
    [0, 0, 0, 0, 0, .22, .60, .25, 0, 0, 0, 0, 0],
    [0, 0, 0, 0, 0, .15, .40, .15, 0, 0, 0, 0, 0],
    [0, 0, 0, 0, 0, .08, .20, .08, 0, 0, 0, 0, 0],
]

# density contours, outer to inner
green_top_lines = [
    [(-.0282,-26),(-.0319,-26.41),(-.0378,-26.72),(-.0430,-27.17),(-.0458,-27.57),(-.0469,-27.85),(-.0495,-28.11),(-.0503,-28.42),
     (-.0495,-28.99),(-.0502,-29.33),(-.0514,-29.73),(-.0514,-30.52),(-.0502,-31.31),(-.0472,-31.68),(-.0434,-32.05),(-.0364,-32.53),
     (-.0308,-32.93),(-.0261,-33.13),(-.0167,-33.31),(-.0036,-33.39),(.0048,-33.39),(.0130,-33.39),(.0277,-33.28),(.0342,-33.09),
     (.0390,-32.88),(.0404,-32.75),(.0430,-32.27),(.0459,-32.03),(.0500,-31.71),(.0524,-31.28),(.0530,-30.83),(.0522,-30.16),
     (.0507,-29.57),(.0483,-29.09),(.0464,-28.77),(.0455,-28.45),(.0455,-28.03),(.0452,-27.65),(.0430,-27.31),(.0411,-26.96),
     (.0390,-26.69),(.0342,-26.24),(.0288,-26)],
    [(-.0020,-27.01),(-.0084,-27.23),(-.0141,-27.59),(-.0178,-27.96),(-.0197,-28.41),(-.0202,-29.03),(-.0197,-29.66),(-.0178,-30.33),
     (-.0141,-30.84),(-.0084,-31.18),(-.0020,-31.40),(.0048,-31.25),(.0082,-31.15),(.0130,-30.99),(.0161,-30.59),(.0188,-30.11),
     (.0204,-29.52),(.0205,-29.09),(.0199,-28.56),(.0185,-28.13),(.0158,-27.76),(.0120,-27.55),(.0082,-27.41),(.0048,-27.25),(-.0020,-27.01)],
    [(-.0020,-27.65),(-.0075,-28.02),(-.0103,-28.47),(-.0115,-29.09),(-.0103,-29.66),(-.0070,-30.16),(-.0020,-30.62),(.0033,-30.39),
     (.0080,-30.05),(.0110,-29.60),(.0120,-29.15),(.0110,-28.69),(.0080,-28.24),(.0033,-27.90),(-.0020,-27.65)],
]
grey_top_lines = [
    [(-.0098,-26),(-.0136,-26.75),(-.0164,-27.23),(-.0188,-27.90),(-.0204,-28.36),(-.0211,-28.98),(-.0209,-29.77),(-.0204,-30.45),
     (-.0188,-30.73),(-.0169,-31.52),(-.0141,-32.08),(-.0131,-32.31),(-.0103,-32.85),(-.0061,-33.44),(-.0033,-33.64),(.0023,-33.69),
     (.0048,-33.52),(.0075,-33.17),(.0110,-32.83),(.0130,-32.51),(.0151,-32.24),(.0168,-31.71),(.0180,-30.91),(.0195,-30.53),
     (.0205,-30.05),(.0209,-29.36),(.0207,-28.67),(.0195,-28.24),(.0178,-27.76),(.0164,-27.33),(.0128,-26.88),(.0118,-26.59),(.0082,-26)],
    [(-.0028,-27.23),(.0023,-27.23),(.0066,-27.85),(.0082,-28.53),(.0084,-29.09),(.0075,-29.82),(.0056,-30.67),(.0023,-31.38),
     (-.0028,-31.27),(-.0066,-30.50),(-.0080,-29.66),(-.0087,-29.09),(-.0082,-28.64),(-.0066,-27.90),(-.0028,-27.23)],
    [(-.0028,-28.30),(.0023,-28.21),(.0038,-28.69),(.0040,-29.09),(.0033,-29.54),(.0023,-29.91),(-.0028,-29.85),(-.0040,-29.37),
     (-.0042,-29.03),(-.0040,-28.64),(-.0028,-28.30)],
]
green_mid_lines = [
    [(-.0213,0),(-.0253,.023),(-.0310,.073),(-.0342,.133),(-.0359,.170),(-.0389,.213),(-.0422,.280),(-.0447,.340),(-.0456,.393),
     (-.0447,.447),(-.0432,.507),(-.0413,.573),(-.0392,.633),(-.0375,.663),(-.0346,.690),(-.0304,.713),(-.0249,.743),(-.0178,.763),
     (-.0108,.781),(-.0038,.790),(.0055,.789),(.0116,.785),(.0168,.772),(.0212,.751),(.0253,.721),(.0305,.681),(.0353,.652),
     (.0385,.623),(.0401,.590),(.0418,.544),(.0431,.498),(.0437,.440),(.0431,.394),(.0416,.341),(.0404,.283),(.0394,.217),
     (.0380,.158),(.0366,.126),(.0342,.093),(.0322,.060),(.0295,.037),(.0267,.014),(.0243,0)],
    [(0,.503),(-.0047,.502),(-.0108,.483),(-.0150,.457),(-.0183,.410),(-.0202,.360),(-.0204,.300),(-.0188,.220),(-.0164,.153),
     (-.0131,.100),(-.0084,.060),(-.0038,.043),(.0028,.040),(.0055,.047),(.0099,.063),(.0137,.083),(.0161,.109),(.0181,.152),
     (.0193,.204),(.0198,.263),(.0197,.309),(.0190,.368),(.0175,.400),(.0151,.430),(.0127,.456),(.0099,.472),(.0055,.489),(.0028,.503),(0,.503)],
    [(0,.377),(-.0056,.371),(-.0075,.353),(-.0096,.313),(-.0103,.267),(-.0092,.220),(-.0070,.167),(-.0042,.130),(-.0005,.117),
     (.0033,.110),(.0066,.130),(.0094,.160),(.0110,.200),(.0112,.247),(.0101,.293),(.0075,.333),(.0038,.367),(.0028,.377),(0,.377)],
]
grey_mid_lines = [
    [(-.0075,0),(-.0070,.013),(-.0092,.100),(-.0108,.173),(-.0113,.240),(-.0130,.300),(-.0141,.393),(-.0141,.500),(-.0136,.593),
     (-.0117,.693),(-.0091,.740),(-.0056,.770),(-.0014,.779),(.0023,.772),(.0066,.733),(.0103,.660),(.0122,.580),(.0134,.480),
     (.0136,.393),(.0127,.340),(.0122,.300),(.0113,.193),(.0101,.073),(.0087,.013),(.0083,0)],
    [(-.0012,.503),(-.0047,.467),(-.0061,.413),(-.0066,.333),(-.0056,.200),(-.0045,.120),(-.0014,.050),(.0023,.040),(.0045,.087),
     (.0054,.153),(.0055,.300),(.0052,.360),(.0033,.440),(.0009,.487),(-.0012,.503)],
    [(-.0012,.370),(-.0026,.327),(-.0031,.260),(-.0023,.173),(-.0014,.127),(.0021,.150),(.0028,.233),(.0026,.293),(.0009,.333),(-.0012,.370)],
]

# --- bottom panel: error PDFs
pdf_solid_x = [-.1, -.09, -.08, -.07, -.06, -.0486, -.0431, -.0379, -.032, -.0285, -.025, -.0209, -.0164, -.012, -.0078, -.006, 0,
               .006, .008, .0119, .0163, .0202, .025, .0291, .0333, .0384, .043, .05, .06, .075, .09, .1]
pdf_solid_y = [.2, .25, .32, .42, .65, 1.23, 1.8, 2.57, 3.9, 5.0, 6.28, 8.53, 12.03, 16.24, 20, 23, 27,
               23, 20, 16.5, 12.45, 9.51, 6.56, 4.74, 3.41, 2.33, 1.65, 1.05, .62, .36, .2, .15]
pdf_dash_x = [-.1, -.09, -.075, -.06, -.0486, -.0414, -.0375, -.032, -.0292, -.0248, -.0209, -.0164, -.012, -.0084, -.006, 0,
              .006, .0091, .0124, .0169, .0208, .025, .0291, .0333, .0374, .043, .05, .06, .075, .09, .1]
pdf_dash_y = [.07, .1, .2, .42, .74, 1.8, 2.57, 4.32, 5.3, 7.55, 9.65, 13.16, 17.22, 20, 24, 30,
              24, 20, 17.36, 13.3, 9.93, 6.91, 4.81, 3.2, 2.36, 1.35, .72, .4, .18, .08, .05]
solid_quantiles = [-.0379, -.0116, .0122, .0402]
dash_quantiles = [-.032, -.0114, .0119, .0333]

top_color = '#2eb866'
mid_color = '#05803f'
black = '#2b2b2b'
grey_alpha = [1, .7, .35]
widths = [.8, 1.25, 1.75]
fill_alpha = .5


def round_path(points):
    # quadratic curves through the read points, so the lines are not drawn as polygons
    p = np.array(points, dtype=float)
    if np.allclose(p[0], p[-1]):
        p = p[:-1]
        n = len(p)
        verts = [(p[-1] + p[0]) / 2]
        for i in range(n):
            verts += [p[i], (p[i] + p[(i + 1) % n]) / 2]
    else:
        n = len(p)
        verts = [p[0]]
        for i in range(1, n - 1):
            verts += [p[i], p[i + 1] if i == n - 2 else (p[i] + p[i + 1]) / 2]
    return Path(verts, [Path.MOVETO] + [Path.CURVE3] * (len(verts) - 1))


def shade(ax, xs, ys, values, color):
    cmap = LinearSegmentedColormap.from_list('core', [to_rgba(color, 0), to_rgba(color, 1)])
    ax.imshow(values, cmap=cmap, vmin=0, vmax=1, aspect='auto', interpolation='bilinear',
              extent=[xs[0] - .005, xs[-1] + .005, ys[-1], ys[0]], zorder=1)


def draw_panel(ax, green_pts, grey_pts, green_core, grey_core, core_y, green_lines, grey_lines, color, style):
    shade(ax, core_x, core_y, green_core, color)
    shade(ax, core_x, core_y, grey_core, '#555555')
    # a few dots were read twice from overlapping crops
    g = np.unique(green_pts, axis=0).T
    k = np.unique(grey_pts, axis=0).T
    ax.scatter(g[0], g[1], s=2, c=color, alpha=.5, linewidths=0, zorder=2)
    ax.scatter(k[0], k[1], s=2, c=black, alpha=.5, linewidths=0, zorder=2)
    for line in green_lines + grey_lines:
        ax.add_patch(PathPatch(round_path(line), facecolor='white', edgecolor='white', alpha=fill_alpha, lw=1.2, zorder=3))
    for i, line in enumerate(grey_lines):
        ax.add_patch(PathPatch(round_path(line), facecolor='none', edgecolor=to_rgba(black, grey_alpha[i]),
                               lw=widths[i], ls=style, zorder=4))
    for i, line in enumerate(green_lines):
        ax.add_patch(PathPatch(round_path(line), facecolor='none', edgecolor=color, lw=widths[i], ls=style, zorder=5))


fig, axes = plt.subplots(3, 1, sharex=True, figsize=(6, 6), dpi=600)
fig.subplots_adjust(left=.12, right=.95, top=.95, bottom=.10, hspace=.1)

draw_panel(axes[0], green_top, grey_top, green_top_core, grey_top_core, core_top_y, green_top_lines, grey_top_lines, top_color, '-')
draw_panel(axes[1], green_mid, grey_mid, green_mid_core, grey_mid_core, core_mid_y, green_mid_lines, grey_mid_lines, mid_color, '--')

ax = axes[2]
for q in solid_quantiles:
    ax.axvline(q, color=top_color, alpha=.35, lw=.8)
for q in dash_quantiles:
    ax.axvline(q, color=mid_color, alpha=.35, lw=.8, ls='--')
ax.add_patch(PathPatch(round_path(list(zip(pdf_solid_x, pdf_solid_y))), facecolor='none',
                       edgecolor=to_rgba(top_color, .75), lw=1.75))
ax.add_patch(PathPatch(round_path(list(zip(pdf_dash_x, pdf_dash_y))), facecolor='none',
                       edgecolor=to_rgba(mid_color, .8), lw=1.75, ls='--'))

axes[0].set_ylim(-36, -26)
axes[0].set_yticks(np.arange(-36, -25, 2))
axes[1].set_ylim(0, 1)
axes[1].set_yticks(np.arange(0, 1.01, .2))
axes[2].set_ylim(0, 20)
axes[2].set_yticks(np.arange(0, 21, 5))
axes[0].set_ylabel('true median', fontsize=13)
axes[1].set_ylabel('true std. dev.', fontsize=13)
axes[2].set_ylabel('error PDF', fontsize=13)
axes[2].set_xlabel('absolute error', fontsize=13)

for ax in axes:
    ax.set_xlim(-.1, .1)
    ax.set_xticks(np.arange(-.1, .101, .025))
    ax.tick_params(labelsize=10.5)
    ax.grid(True, color='k', alpha=.05, lw=.8)
    ax.set_axisbelow(True)

plt.savefig('out.png', dpi=600)
